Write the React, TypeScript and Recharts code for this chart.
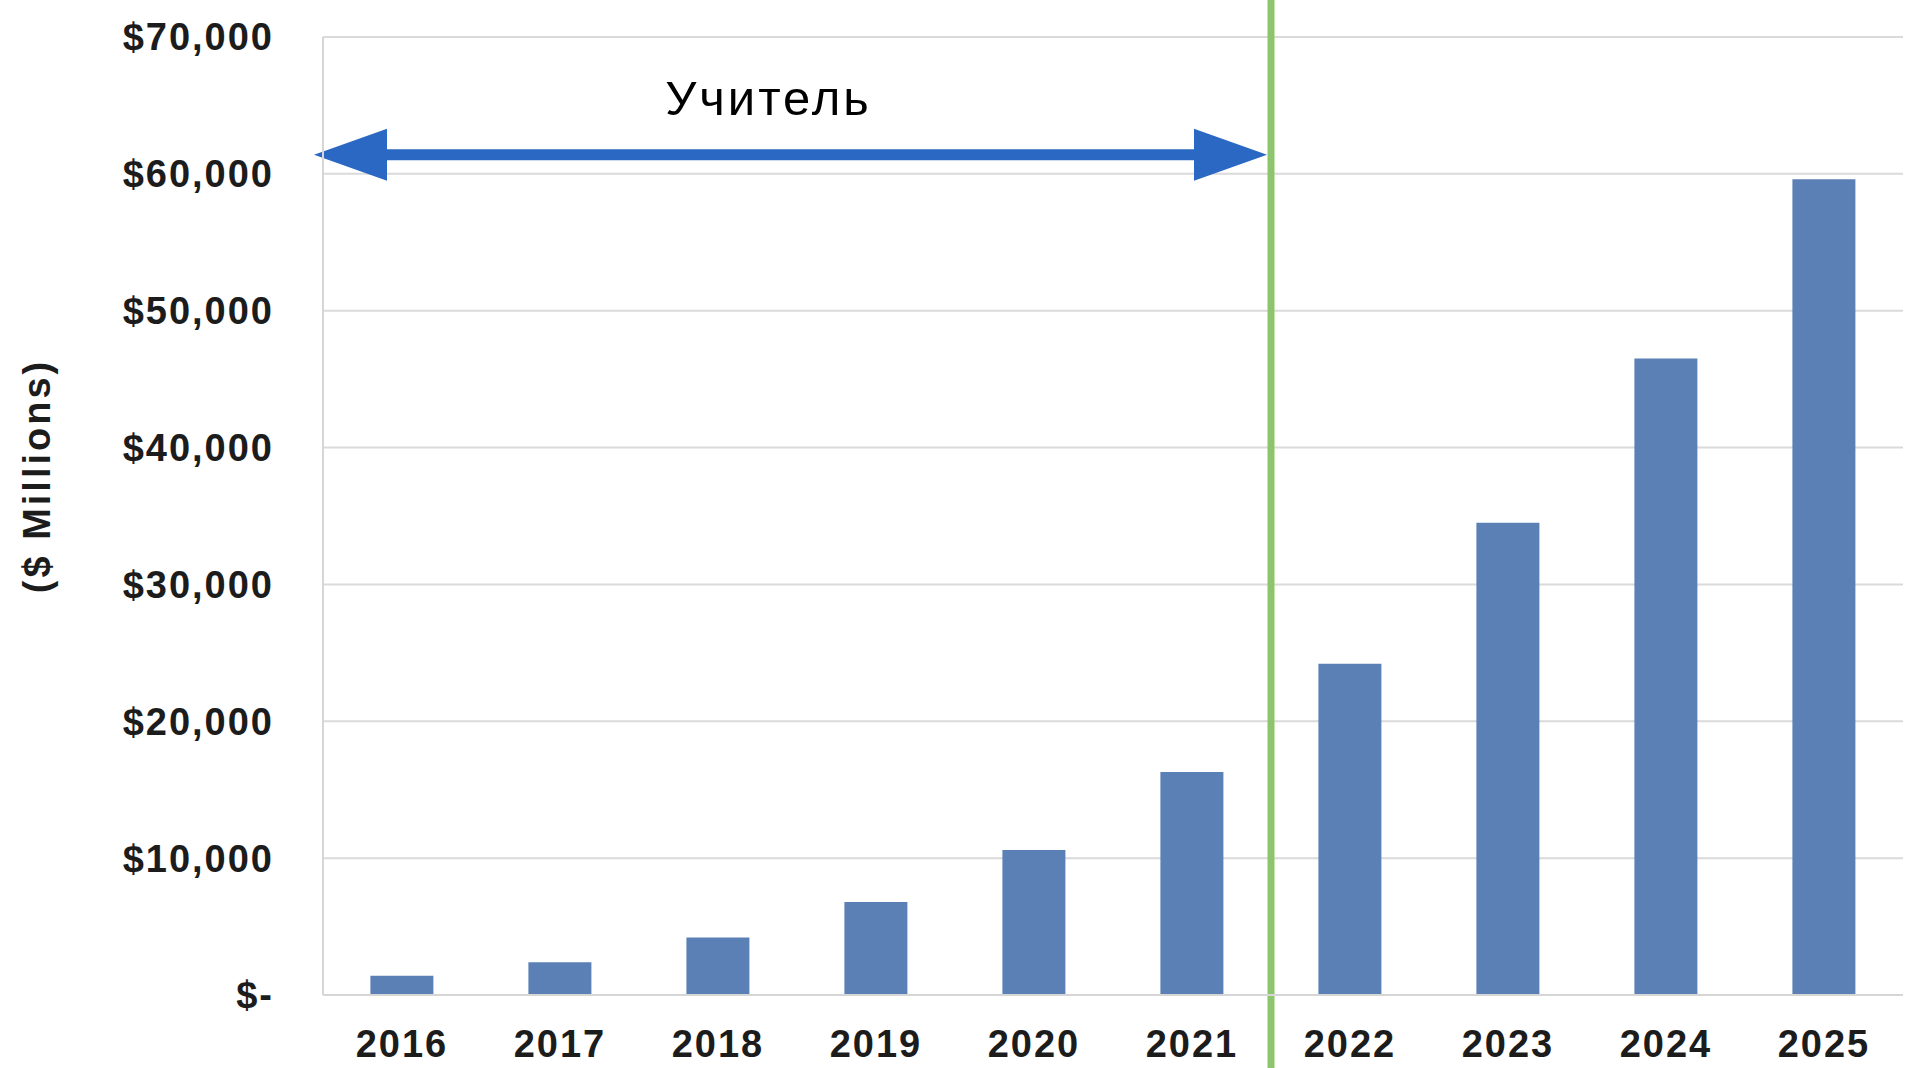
import { BarChart, Bar, XAxis, YAxis, CartesianGrid, ReferenceLine } from 'recharts';

const W = 1910;
const H = 1068;
const FONT = "'Liberation Sans', Arial, sans-serif";

const years = ['2016', '2017', '2018', '2019', '2020', '2021', '2022', '2023', '2024', '2025'];
const marketSize = [1400, 2400, 4200, 6800, 10600, 16300, 24200, 34500, 46500, 59600];
const yTicks = [0, 10000, 20000, 30000, 40000, 50000, 60000, 70000];

// last actual year and first forecast year: the divider sits between them
const lastActual = '2021';
const firstForecast = '2022';
const arrowLevel = 61400;
const arrowLabel = 'Учитель';
const axisTitle = '($ Millions)';

const data = years.map((year, i) => ({ year, value: marketSize[i] }));

const money = (v: number) => (v === 0 ? '$-' : '$' + v.toLocaleString('en-US'));

function YearTick({ x, y, payload }: any) {
  return (
    <text x={x} y={y} dy="0.71em" textAnchor="middle" fill="#1c1c1c"
      style={{ fontFamily: FONT, fontSize: 38, fontWeight: 700, letterSpacing: 2 }}>
      {payload.value}
    </text>
  );
}

function MoneyTick({ x, y, payload }: any) {
  return (
    <text x={x} y={y} dy="0.355em" textAnchor="end" fill="#1c1c1c"
      style={{ fontFamily: FONT, fontSize: 38, fontWeight: 700, letterSpacing: 2 }}>
      {money(payload.value)}
    </text>
  );
}

function AxisTitle({ viewBox }: any) {
  const cx = viewBox.x + 37;
  const cy = viewBox.y + viewBox.height / 2 - 40;
  return (
    <text x={cx} y={cy} transform={`rotate(-90, ${cx}, ${cy})`} textAnchor="middle"
      dominantBaseline="central" fill="#1c1c1c"
      style={{ fontFamily: FONT, fontSize: 38, fontWeight: 700, letterSpacing: 3 }}>
      {axisTitle}
    </text>
  );
}

// segment runs between the centres of two neighbouring bands; the divider is their midpoint
function Divider({ x1, x2 }: any) {
  const x = (x1 + x2) / 2;
  return <line x1={x} x2={x} y1={0} y2={H} stroke="#8cc56c" strokeWidth={7} />;
}

// segment runs from the first band centre to the first forecast band centre
function DoubleArrow({ x1, x2, y1 }: any) {
  const band = (x2 - x1) / years.indexOf(firstForecast);
  const left = x1 - band / 2 - 9;
  const right = x2 - band / 2 - 4;
  const head = 73;
  const half = 26;
  const shaft = 5.5;
  const pts = [
    [left, y1], [left + head, y1 - half], [left + head, y1 - shaft],
    [right - head, y1 - shaft], [right - head, y1 - half], [right, y1],
    [right - head, y1 + half], [right - head, y1 + shaft], [left + head, y1 + shaft],
    [left + head, y1 + half],
  ].map((p) => p.join(',')).join(' ');
  return (
    <g>
      <polygon points={pts} fill="#2a68c3" />
      <text x={(left + right) / 2 - 22} y={y1 - 40} textAnchor="middle" fill="#000"
        style={{ fontFamily: FONT, fontSize: 49, letterSpacing: 3 }}>
        {arrowLabel}
      </text>
    </g>
  );
}

export default function App() {
  return (
    <div style={{ position: 'absolute', left: 0, top: 0, width: W, height: H, background: '#fff' }}>
      <BarChart width={W} height={H} data={data} barCategoryGap="30%"
        margin={{ top: 37, right: 7, bottom: 0, left: 0 }}>
        <CartesianGrid vertical={false} stroke="#dadada" strokeWidth={2} />
        <XAxis dataKey="year" height={73} tickSize={0} tickMargin={35}
          axisLine={{ stroke: '#d6d6d6', strokeWidth: 2 }} tickLine={false} tick={<YearTick />} />
        <YAxis width={323} domain={[0, 70000]} ticks={yTicks} interval={0} tickSize={0} tickMargin={49}
          axisLine={{ stroke: '#d6d6d6', strokeWidth: 2 }} tickLine={false} tick={<MoneyTick />}
          label={AxisTitle} />
        <YAxis yAxisId="frame" orientation="right" width={0} domain={[0, 70000]} tick={false}
          tickLine={false} axisLine={{ stroke: '#d6d6d6', strokeWidth: 2 }} />
        <Bar dataKey="value" fill="#5b80b5" isAnimationActive={false} />
        <ReferenceLine ifOverflow="visible"
          segment={[{ x: years[0], y: arrowLevel }, { x: firstForecast, y: arrowLevel }]}
          shape={DoubleArrow} />
        <ReferenceLine ifOverflow="visible"
          segment={[{ x: lastActual, y: 0 }, { x: firstForecast, y: 0 }]}
          shape={Divider} />
      </BarChart>
    </div>
  );
}
